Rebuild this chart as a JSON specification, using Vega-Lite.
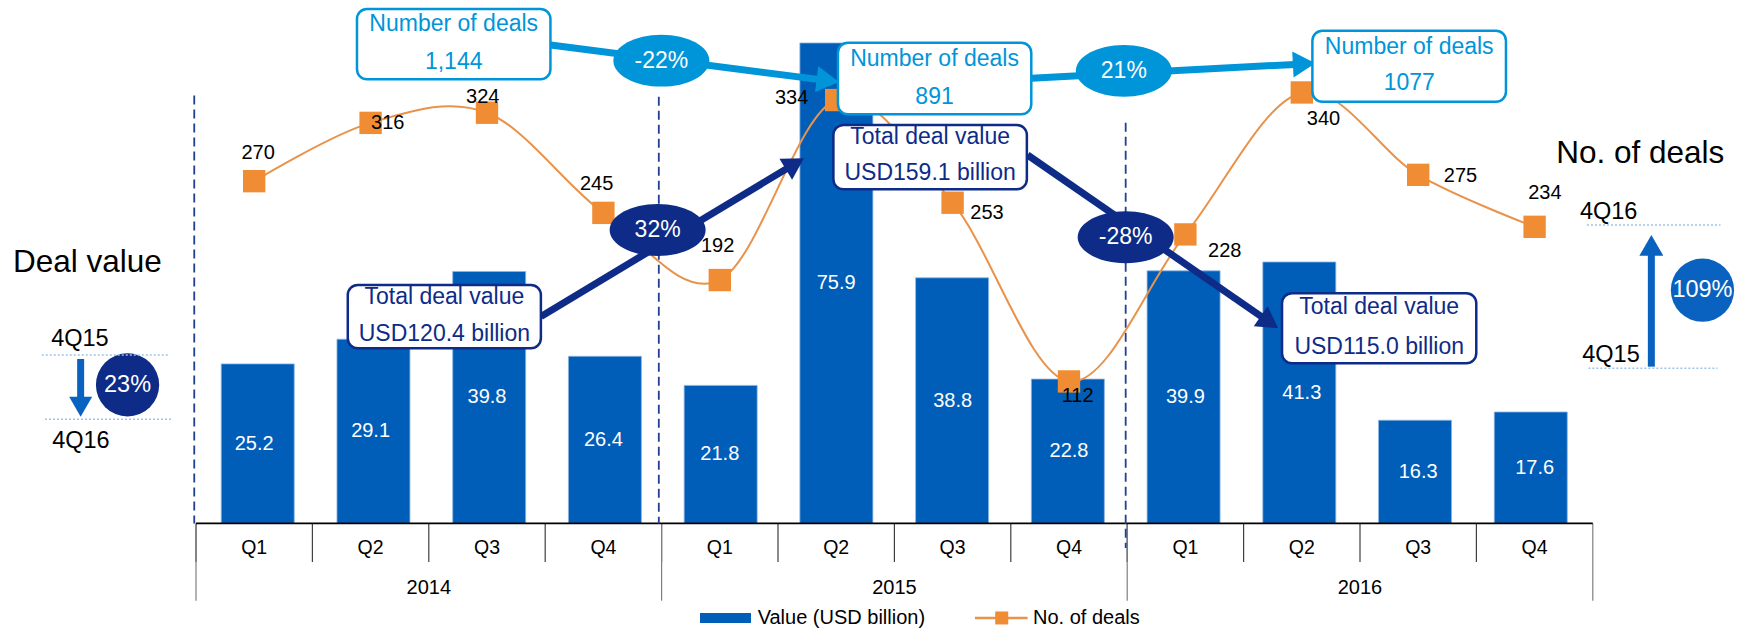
{
  "$schema": "https://vega.github.io/schema/vega-lite/v6.json",
  "width": 1739,
  "height": 630,
  "padding": 0,
  "autosize": {"type": "none"},
  "background": "white",
  "config": {"view": {"stroke": null}, "font": "Liberation Sans", "text": {"font": "Liberation Sans"}},
  "datasets": {
    "q": [
      {"i": 0, "quarter": "Q1", "year": "2014", "value": 25.2, "deals": 270},
      {"i": 1, "quarter": "Q2", "year": "2014", "value": 29.1, "deals": 316},
      {"i": 2, "quarter": "Q3", "year": "2014", "value": 39.8, "deals": 324},
      {"i": 3, "quarter": "Q4", "year": "2014", "value": 26.4, "deals": 245},
      {"i": 4, "quarter": "Q1", "year": "2015", "value": 21.8, "deals": 192},
      {"i": 5, "quarter": "Q2", "year": "2015", "value": 75.9, "deals": 334},
      {"i": 6, "quarter": "Q3", "year": "2015", "value": 38.8, "deals": 253},
      {"i": 7, "quarter": "Q4", "year": "2015", "value": 22.8, "deals": 112},
      {"i": 8, "quarter": "Q1", "year": "2016", "value": 39.9, "deals": 228},
      {"i": 9, "quarter": "Q2", "year": "2016", "value": 41.3, "deals": 340},
      {"i": 10, "quarter": "Q3", "year": "2016", "value": 16.3, "deals": 275},
      {"i": 11, "quarter": "Q4", "year": "2016", "value": 17.6, "deals": 234}
    ],
    "dl": [
      {"t": "270", "x": 0.034, "y": 58.47}, {"t": "316", "x": 1.147, "y": 63.21},
      {"t": "324", "x": 1.964, "y": 67.31}, {"t": "245", "x": 2.942, "y": 53.62},
      {"t": "192", "x": 3.981, "y": 43.87}, {"t": "334", "x": 4.617, "y": 67.16},
      {"t": "253", "x": 6.296, "y": 48.99}, {"t": "112", "x": 7.074, "y": 20.17},
      {"t": "228", "x": 8.338, "y": 43.08}, {"t": "340", "x": 9.186, "y": 63.89},
      {"t": "275", "x": 10.363, "y": 54.88}, {"t": "234", "x": 11.088, "y": 52.24}
    ],
    "boxes": [
      {"kind": "deals", "x": 0.883, "x2": 2.545, "y": 81.26, "y2": 70.16},
      {"kind": "deals", "x": 5.015, "x2": 6.676, "y": 75.94, "y2": 64.63},
      {"kind": "deals", "x": 9.091, "x2": 10.754, "y": 77.84, "y2": 66.62},
      {"kind": "value", "x": 0.804, "x2": 2.463, "y": 37.66, "y2": 27.66},
      {"kind": "value", "x": 4.976, "x2": 6.638, "y": 62.94, "y2": 52.78},
      {"kind": "value", "x": 8.83, "x2": 10.499, "y": 36.35, "y2": 25.29}
    ],
    "boxText": [
      {"kind": "deals", "t": "Number of deals", "x": 1.714, "y": 78.89},
      {"kind": "deals", "t": "1,144", "x": 1.714, "y": 72.94},
      {"kind": "deals", "t": "Number of deals", "x": 5.845, "y": 73.32},
      {"kind": "deals", "t": "891", "x": 5.845, "y": 67.41},
      {"kind": "deals", "t": "Number of deals", "x": 9.923, "y": 75.31},
      {"kind": "deals", "t": "1077", "x": 9.923, "y": 69.53},
      {"kind": "value", "t": "Total deal value", "x": 1.634, "y": 35.81},
      {"kind": "value", "t": "USD120.4 billion", "x": 1.634, "y": 29.87},
      {"kind": "value", "t": "Total deal value", "x": 5.807, "y": 61.09},
      {"kind": "value", "t": "USD159.1 billion", "x": 5.807, "y": 55.31},
      {"kind": "value", "t": "Total deal value", "x": 9.665, "y": 34.19},
      {"kind": "value", "t": "USD115.0 billion", "x": 9.665, "y": 27.91}
    ],
    "ellipses": [
      {"kind": "deals", "t": "-22%", "x": 3.498, "y": 73.1},
      {"kind": "deals", "t": "21%", "x": 7.471, "y": 71.5},
      {"kind": "value", "t": "32%", "x": 3.466, "y": 46.35},
      {"kind": "value", "t": "-28%", "x": 7.487, "y": 45.2}
    ],
    "circles": [
      {"kind": "value", "t": "23%", "x": -1.088, "y": 21.88},
      {"kind": "side", "t": "109%", "x": 12.442, "y": 36.84}
    ],
    "shafts": [
      {"kind": "deals", "x": 2.546, "y": 75.58, "x2": 4.928, "y2": 69.95},
      {"kind": "deals", "x": 6.676, "y": 70.32, "x2": 9.02, "y2": 72.59},
      {"kind": "value", "x": 2.464, "y": 32.69, "x2": 4.645, "y2": 56.82},
      {"kind": "value", "x": 6.644, "y": 58.2, "x2": 8.722, "y2": 31.8},
      {"kind": "side", "x": -1.491, "y": 25.97, "x2": -1.491, "y2": 18.44},
      {"kind": "side", "x": 12.003, "y": 24.76, "x2": 12.003, "y2": 43.92}
    ],
    "heads": [
      {"id": "a1", "kind": "deals", "x": 4.928, "y": 69.95},
      {"id": "a2", "kind": "deals", "x": 9.02, "y": 72.59},
      {"id": "a3", "kind": "value", "x": 4.645, "y": 56.82},
      {"id": "a4", "kind": "value", "x": 8.722, "y": 31.8},
      {"id": "down", "kind": "side", "x": -1.491, "y": 18.44},
      {"id": "up", "kind": "side", "x": 12.003, "y": 43.92}
    ],
    "dotted": [
      {"x": -1.825, "x2": -0.74, "y": 26.61},
      {"x": -1.797, "x2": -0.71, "y": 16.45},
      {"x": 11.45, "x2": 12.597, "y": 47.14},
      {"x": 11.462, "x2": 12.571, "y": 24.5}
    ],
    "sideSmall": [
      {"t": "4Q15", "x": -1.497, "y": 29.13},
      {"t": "4Q16", "x": -1.489, "y": 13.02},
      {"t": "4Q16", "x": 11.636, "y": 49.24},
      {"t": "4Q15", "x": 11.656, "y": 26.6}
    ],
    "sideBig": [
      {"t": "Deal value", "x": -1.433, "y": 41.14},
      {"t": "No. of deals", "x": 11.907, "y": 58.36}
    ],
    "guides": [
      {"x": -0.515, "y": 67.6, "y2": 0},
      {"x": 3.476, "y": 67.4, "y2": 0},
      {"x": 7.487, "y": 63.3, "y2": -3.9}
    ],
    "legend": [
      {"series": "Value (USD billion)", "sx": 3.83, "sx2": 4.268, "mx": 4.049, "tx": 4.325, "y": -14.94},
      {"series": "No. of deals", "sx": 6.192, "sx2": 6.644, "mx": 6.422, "tx": 6.691, "y": -14.94}
    ]
  },
  "resolve": {"scale": {"x": "independent", "y": "independent", "color": "independent"}},
  "layer": [
    {
      "data": {"name": "q"},
      "mark": {"type": "bar", "size": 73, "orient": "vertical", "color": "#005EB8", "stroke": "#8DB6E3", "strokeWidth": 0.8},
      "encoding": {
        "x": {"field": "i", "type": "quantitative", "scale": {"domain": [-2.1838, 12.756], "nice": false, "zero": false}, "axis": null},
        "y": {"field": "value", "type": "quantitative", "scale": {"domain": [-16.84, 82.686], "nice": false, "zero": false}, "axis": null},
        "y2": {"datum": 0}
      }
    },
    {
      "data": {"name": "q"},
      "mark": {"type": "text", "color": "white", "fontSize": 20, "align": "center", "baseline": "middle"},
      "encoding": {
        "x": {"field": "i", "type": "quantitative", "scale": {"domain": [-2.1838, 12.756], "nice": false, "zero": false}, "axis": null},
        "y": {"field": "value", "type": "quantitative", "scale": {"domain": [-33.68, 165.372], "nice": false, "zero": false}, "axis": null},
        "text": {"field": "value", "type": "quantitative", "format": ".1f"}
      }
    },
    {
      "data": {"name": "q"},
      "mark": {"type": "rule", "color": "#3F3F3F", "strokeWidth": 1.2, "xOffset": -58.2},
      "encoding": {
        "x": {"field": "i", "type": "quantitative", "scale": {"domain": [-2.1838, 12.756], "nice": false, "zero": false}, "axis": null},
        "y": {"datum": 0, "type": "quantitative", "scale": {"domain": [-16.84, 82.686], "nice": false, "zero": false}, "axis": null},
        "y2": {"datum": -6.1}
      }
    },
    {
      "data": {"name": "q"},
      "transform": [{"filter": "datum.quarter == 'Q1'"}],
      "mark": {"type": "rule", "color": "#7F7F7F", "strokeWidth": 1.2, "xOffset": -58.2},
      "encoding": {
        "x": {"field": "i", "type": "quantitative", "scale": {"domain": [-2.1838, 12.756], "nice": false, "zero": false}, "axis": null},
        "y": {"datum": 0, "type": "quantitative", "scale": {"domain": [-16.84, 82.686], "nice": false, "zero": false}, "axis": null},
        "y2": {"datum": -12.21}
      }
    },
    {
      "data": {"name": "q"},
      "transform": [{"filter": "datum.i == 11"}],
      "mark": {"type": "rule", "color": "#7F7F7F", "strokeWidth": 1.2, "xOffset": 58.2},
      "encoding": {
        "x": {"field": "i", "type": "quantitative", "scale": {"domain": [-2.1838, 12.756], "nice": false, "zero": false}, "axis": null},
        "y": {"datum": 0, "type": "quantitative", "scale": {"domain": [-16.84, 82.686], "nice": false, "zero": false}, "axis": null},
        "y2": {"datum": -12.21}
      }
    },
    {
      "data": {"values": [{"x": -0.5, "x2": 11.5, "y": 0}]},
      "mark": {"type": "rule", "color": "black", "strokeWidth": 1.6},
      "encoding": {
        "x": {"field": "x", "type": "quantitative", "scale": {"domain": [-2.1838, 12.756], "nice": false, "zero": false}, "axis": null},
        "x2": {"field": "x2"},
        "y": {"field": "y", "type": "quantitative", "scale": {"domain": [-16.84, 82.686], "nice": false, "zero": false}, "axis": null}
      }
    },
    {
      "data": {"name": "q"},
      "mark": {"type": "text", "color": "black", "fontSize": 19.5, "align": "center", "baseline": "middle"},
      "encoding": {
        "x": {"field": "i", "type": "quantitative", "scale": {"domain": [-2.1838, 12.756], "nice": false, "zero": false}, "axis": null},
        "y": {"datum": -3.886, "type": "quantitative", "scale": {"domain": [-16.84, 82.686], "nice": false, "zero": false}, "axis": null},
        "text": {"field": "quarter"}
      }
    },
    {
      "data": {"name": "q"},
      "mark": {"type": "text", "color": "black", "fontSize": 20, "align": "center", "baseline": "middle"},
      "encoding": {
        "x": {"aggregate": "mean", "field": "i", "type": "quantitative", "scale": {"domain": [-2.1838, 12.756], "nice": false, "zero": false}, "axis": null},
        "y": {"datum": -10.16, "type": "quantitative", "scale": {"domain": [-16.84, 82.686], "nice": false, "zero": false}, "axis": null},
        "text": {"field": "year"}
      }
    },
    {
      "data": {"name": "guides"},
      "mark": {"type": "rule", "color": "#213F93", "strokeWidth": 1.8, "strokeDash": [9, 5]},
      "encoding": {
        "x": {"field": "x", "type": "quantitative", "scale": {"domain": [-2.1838, 12.756], "nice": false, "zero": false}, "axis": null},
        "y": {"field": "y", "type": "quantitative", "scale": {"domain": [-16.84, 82.686], "nice": false, "zero": false}, "axis": null},
        "y2": {"field": "y2"}
      }
    },
    {
      "data": {"name": "q"},
      "mark": {"type": "line", "color": "#E8924A", "strokeWidth": 2, "interpolate": "cardinal"},
      "encoding": {
        "x": {"field": "i", "type": "quantitative", "scale": {"domain": [-2.1838, 12.756], "nice": false, "zero": false}, "axis": null},
        "y": {"field": "deals", "type": "quantitative", "scale": {"domain": [-84.1, 412.94], "nice": false, "zero": false}, "axis": null}
      }
    },
    {
      "data": {"name": "q"},
      "mark": {"type": "point", "shape": "square", "filled": true, "size": 500, "color": "#F08C33", "opacity": 1},
      "encoding": {
        "x": {"field": "i", "type": "quantitative", "scale": {"domain": [-2.1838, 12.756], "nice": false, "zero": false}, "axis": null},
        "y": {"field": "deals", "type": "quantitative", "scale": {"domain": [-84.1, 412.94], "nice": false, "zero": false}, "axis": null}
      }
    },
    {
      "data": {"name": "dl"},
      "mark": {"type": "text", "color": "black", "fontSize": 20, "align": "center", "baseline": "middle"},
      "encoding": {
        "x": {"field": "x", "type": "quantitative", "scale": {"domain": [-2.1838, 12.756], "nice": false, "zero": false}, "axis": null},
        "y": {"field": "y", "type": "quantitative", "scale": {"domain": [-16.84, 82.686], "nice": false, "zero": false}, "axis": null},
        "text": {"field": "t"}
      }
    },
    {
      "data": {"name": "shafts"},
      "mark": {"type": "rule", "strokeWidth": 7, "strokeCap": "butt"},
      "encoding": {
        "x": {"field": "x", "type": "quantitative", "scale": {"domain": [-2.1838, 12.756], "nice": false, "zero": false}, "axis": null},
        "y": {"field": "y", "type": "quantitative", "scale": {"domain": [-16.84, 82.686], "nice": false, "zero": false}, "axis": null},
        "x2": {"field": "x2"},
        "y2": {"field": "y2"},
        "color": {"field": "kind", "type": "nominal", "scale": {"domain": ["deals", "value", "side"], "range": ["#0095D9", "#0D2B87", "#0A62C0"]}, "legend": null}
      }
    },
    {
      "data": {"name": "heads"},
      "transform": [{"filter": "datum.id == 'a1'"}],
      "mark": {"type": "point", "shape": "triangle-up", "filled": true, "opacity": 1, "size": 676, "angle": 97.3},
      "encoding": {
        "x": {"field": "x", "type": "quantitative", "scale": {"domain": [-2.1838, 12.756], "nice": false, "zero": false}, "axis": null},
        "y": {"field": "y", "type": "quantitative", "scale": {"domain": [-16.84, 82.686], "nice": false, "zero": false}, "axis": null},
        "color": {"field": "kind", "type": "nominal", "scale": {"domain": ["deals", "value", "side"], "range": ["#0095D9", "#0D2B87", "#0A62C0"]}, "legend": null}
      }
    },
    {
      "data": {"name": "heads"},
      "transform": [{"filter": "datum.id == 'a2'"}],
      "mark": {"type": "point", "shape": "triangle-up", "filled": true, "opacity": 1, "size": 676, "angle": 87},
      "encoding": {
        "x": {"field": "x", "type": "quantitative", "scale": {"domain": [-2.1838, 12.756], "nice": false, "zero": false}, "axis": null},
        "y": {"field": "y", "type": "quantitative", "scale": {"domain": [-16.84, 82.686], "nice": false, "zero": false}, "axis": null},
        "color": {"field": "kind", "type": "nominal", "scale": {"domain": ["deals", "value", "side"], "range": ["#0095D9", "#0D2B87", "#0A62C0"]}, "legend": null}
      }
    },
    {
      "data": {"name": "heads"},
      "transform": [{"filter": "datum.id == 'a3'"}],
      "mark": {"type": "point", "shape": "triangle-up", "filled": true, "opacity": 1, "size": 600, "angle": 59},
      "encoding": {
        "x": {"field": "x", "type": "quantitative", "scale": {"domain": [-2.1838, 12.756], "nice": false, "zero": false}, "axis": null},
        "y": {"field": "y", "type": "quantitative", "scale": {"domain": [-16.84, 82.686], "nice": false, "zero": false}, "axis": null},
        "color": {"field": "kind", "type": "nominal", "scale": {"domain": ["deals", "value", "side"], "range": ["#0095D9", "#0D2B87", "#0A62C0"]}, "legend": null}
      }
    },
    {
      "data": {"name": "heads"},
      "transform": [{"filter": "datum.id == 'a4'"}],
      "mark": {"type": "point", "shape": "triangle-up", "filled": true, "opacity": 1, "size": 600, "angle": 124.6},
      "encoding": {
        "x": {"field": "x", "type": "quantitative", "scale": {"domain": [-2.1838, 12.756], "nice": false, "zero": false}, "axis": null},
        "y": {"field": "y", "type": "quantitative", "scale": {"domain": [-16.84, 82.686], "nice": false, "zero": false}, "axis": null},
        "color": {"field": "kind", "type": "nominal", "scale": {"domain": ["deals", "value", "side"], "range": ["#0095D9", "#0D2B87", "#0A62C0"]}, "legend": null}
      }
    },
    {
      "data": {"name": "heads"},
      "transform": [{"filter": "datum.id == 'down'"}],
      "mark": {"type": "point", "shape": "triangle-down", "filled": true, "opacity": 1, "size": 529},
      "encoding": {
        "x": {"field": "x", "type": "quantitative", "scale": {"domain": [-2.1838, 12.756], "nice": false, "zero": false}, "axis": null},
        "y": {"field": "y", "type": "quantitative", "scale": {"domain": [-16.84, 82.686], "nice": false, "zero": false}, "axis": null},
        "color": {"field": "kind", "type": "nominal", "scale": {"domain": ["deals", "value", "side"], "range": ["#0095D9", "#0D2B87", "#0A62C0"]}, "legend": null}
      }
    },
    {
      "data": {"name": "heads"},
      "transform": [{"filter": "datum.id == 'up'"}],
      "mark": {"type": "point", "shape": "triangle-up", "filled": true, "opacity": 1, "size": 576},
      "encoding": {
        "x": {"field": "x", "type": "quantitative", "scale": {"domain": [-2.1838, 12.756], "nice": false, "zero": false}, "axis": null},
        "y": {"field": "y", "type": "quantitative", "scale": {"domain": [-16.84, 82.686], "nice": false, "zero": false}, "axis": null},
        "color": {"field": "kind", "type": "nominal", "scale": {"domain": ["deals", "value", "side"], "range": ["#0095D9", "#0D2B87", "#0A62C0"]}, "legend": null}
      }
    },
    {
      "data": {"name": "boxes"},
      "mark": {"type": "rect", "fill": "white", "strokeWidth": 2.5, "cornerRadius": 10},
      "encoding": {
        "x": {"field": "x", "type": "quantitative", "scale": {"domain": [-2.1838, 12.756], "nice": false, "zero": false}, "axis": null},
        "y": {"field": "y", "type": "quantitative", "scale": {"domain": [-16.84, 82.686], "nice": false, "zero": false}, "axis": null},
        "x2": {"field": "x2"},
        "y2": {"field": "y2"},
        "stroke": {"field": "kind", "type": "nominal", "scale": {"domain": ["deals", "value", "side"], "range": ["#0095D9", "#0D2B87", "#0A62C0"]}, "legend": null}
      }
    },
    {
      "data": {"name": "boxText"},
      "mark": {"type": "text", "fontSize": 23, "align": "center", "baseline": "middle"},
      "encoding": {
        "x": {"field": "x", "type": "quantitative", "scale": {"domain": [-2.1838, 12.756], "nice": false, "zero": false}, "axis": null},
        "y": {"field": "y", "type": "quantitative", "scale": {"domain": [-16.84, 82.686], "nice": false, "zero": false}, "axis": null},
        "text": {"field": "t"},
        "color": {"field": "kind", "type": "nominal", "scale": {"domain": ["deals", "value", "side"], "range": ["#0095D9", "#0D2B87", "#0A62C0"]}, "legend": null}
      }
    },
    {
      "data": {"name": "ellipses"},
      "mark": {"type": "point", "shape": "M-1,0A1,0.54,0,1,1,1,0A1,0.54,0,1,1,-1,0Z", "filled": true, "opacity": 1, "size": 9216},
      "encoding": {
        "x": {"field": "x", "type": "quantitative", "scale": {"domain": [-2.1838, 12.756], "nice": false, "zero": false}, "axis": null},
        "y": {"field": "y", "type": "quantitative", "scale": {"domain": [-16.84, 82.686], "nice": false, "zero": false}, "axis": null},
        "color": {"field": "kind", "type": "nominal", "scale": {"domain": ["deals", "value", "side"], "range": ["#0095D9", "#0D2B87", "#0A62C0"]}, "legend": null}
      }
    },
    {
      "data": {"name": "circles"},
      "mark": {"type": "point", "shape": "circle", "filled": true, "opacity": 1, "size": 4000},
      "encoding": {
        "x": {"field": "x", "type": "quantitative", "scale": {"domain": [-2.1838, 12.756], "nice": false, "zero": false}, "axis": null},
        "y": {"field": "y", "type": "quantitative", "scale": {"domain": [-16.84, 82.686], "nice": false, "zero": false}, "axis": null},
        "color": {"field": "kind", "type": "nominal", "scale": {"domain": ["deals", "value", "side"], "range": ["#0095D9", "#0D2B87", "#0A62C0"]}, "legend": null}
      }
    },
    {
      "data": {"name": "ellipses"},
      "mark": {"type": "text", "color": "white", "fontSize": 23, "align": "center", "baseline": "middle"},
      "encoding": {
        "x": {"field": "x", "type": "quantitative", "scale": {"domain": [-2.1838, 12.756], "nice": false, "zero": false}, "axis": null},
        "y": {"field": "y", "type": "quantitative", "scale": {"domain": [-16.84, 82.686], "nice": false, "zero": false}, "axis": null},
        "text": {"field": "t"}
      }
    },
    {
      "data": {"name": "circles"},
      "mark": {"type": "text", "color": "white", "fontSize": 23.5, "align": "center", "baseline": "middle"},
      "encoding": {
        "x": {"field": "x", "type": "quantitative", "scale": {"domain": [-2.1838, 12.756], "nice": false, "zero": false}, "axis": null},
        "y": {"field": "y", "type": "quantitative", "scale": {"domain": [-16.84, 82.686], "nice": false, "zero": false}, "axis": null},
        "text": {"field": "t"}
      }
    },
    {
      "data": {"name": "dotted"},
      "mark": {"type": "rule", "color": "#9DC3E6", "strokeWidth": 1.5, "strokeDash": [2, 2]},
      "encoding": {
        "x": {"field": "x", "type": "quantitative", "scale": {"domain": [-2.1838, 12.756], "nice": false, "zero": false}, "axis": null},
        "y": {"field": "y", "type": "quantitative", "scale": {"domain": [-16.84, 82.686], "nice": false, "zero": false}, "axis": null},
        "x2": {"field": "x2"}
      }
    },
    {
      "data": {"name": "sideSmall"},
      "mark": {"type": "text", "color": "black", "fontSize": 23.5, "align": "center", "baseline": "middle"},
      "encoding": {
        "x": {"field": "x", "type": "quantitative", "scale": {"domain": [-2.1838, 12.756], "nice": false, "zero": false}, "axis": null},
        "y": {"field": "y", "type": "quantitative", "scale": {"domain": [-16.84, 82.686], "nice": false, "zero": false}, "axis": null},
        "text": {"field": "t"}
      }
    },
    {
      "data": {"name": "sideBig"},
      "mark": {"type": "text", "color": "black", "fontSize": 31.5, "align": "center", "baseline": "middle"},
      "encoding": {
        "x": {"field": "x", "type": "quantitative", "scale": {"domain": [-2.1838, 12.756], "nice": false, "zero": false}, "axis": null},
        "y": {"field": "y", "type": "quantitative", "scale": {"domain": [-16.84, 82.686], "nice": false, "zero": false}, "axis": null},
        "text": {"field": "t"}
      }
    },
    {
      "data": {"name": "legend"},
      "transform": [{"filter": "datum.series == 'Value (USD billion)'"}],
      "mark": {"type": "rule", "color": "#005EB8", "strokeWidth": 10, "strokeCap": "butt"},
      "encoding": {
        "x": {"field": "sx", "type": "quantitative", "scale": {"domain": [-2.1838, 12.756], "nice": false, "zero": false}, "axis": null},
        "x2": {"field": "sx2"},
        "y": {"field": "y", "type": "quantitative", "scale": {"domain": [-16.84, 82.686], "nice": false, "zero": false}, "axis": null}
      }
    },
    {
      "data": {"name": "legend"},
      "transform": [{"filter": "datum.series == 'No. of deals'"}],
      "mark": {"type": "rule", "color": "#E8924A", "strokeWidth": 2.5},
      "encoding": {
        "x": {"field": "sx", "type": "quantitative", "scale": {"domain": [-2.1838, 12.756], "nice": false, "zero": false}, "axis": null},
        "x2": {"field": "sx2"},
        "y": {"field": "y", "type": "quantitative", "scale": {"domain": [-16.84, 82.686], "nice": false, "zero": false}, "axis": null}
      }
    },
    {
      "data": {"name": "legend"},
      "transform": [{"filter": "datum.series == 'No. of deals'"}],
      "mark": {"type": "point", "shape": "square", "filled": true, "opacity": 1, "size": 169, "color": "#F08C33"},
      "encoding": {
        "x": {"field": "mx", "type": "quantitative", "scale": {"domain": [-2.1838, 12.756], "nice": false, "zero": false}, "axis": null},
        "y": {"field": "y", "type": "quantitative", "scale": {"domain": [-16.84, 82.686], "nice": false, "zero": false}, "axis": null}
      }
    },
    {
      "data": {"name": "legend"},
      "mark": {"type": "text", "color": "black", "fontSize": 20, "align": "left", "baseline": "middle"},
      "encoding": {
        "x": {"field": "tx", "type": "quantitative", "scale": {"domain": [-2.1838, 12.756], "nice": false, "zero": false}, "axis": null},
        "y": {"field": "y", "type": "quantitative", "scale": {"domain": [-16.84, 82.686], "nice": false, "zero": false}, "axis": null},
        "text": {"field": "series"}
      }
    }
  ]
}
